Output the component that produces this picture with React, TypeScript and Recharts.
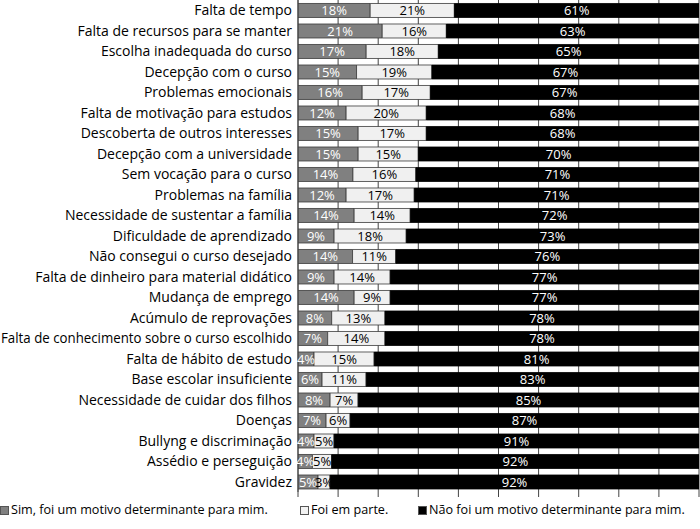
import React from 'react';
import { BarChart, Bar, XAxis, YAxis, CartesianGrid, LabelList, Legend } from 'recharts';

const categories = [
  'Falta de tempo',
  'Falta de recursos para se manter',
  'Escolha inadequada do curso',
  'Decepção com o curso',
  'Problemas emocionais',
  'Falta de motivação para estudos',
  'Descoberta de outros interesses',
  'Decepção com a universidade',
  'Sem vocação para o curso',
  'Problemas na família',
  'Necessidade de sustentar a família',
  'Dificuldade de aprendizado',
  'Não consegui o curso desejado',
  'Falta de dinheiro para material didático',
  'Mudança de emprego',
  'Acúmulo de reprovações',
  'Falta de conhecimento sobre o curso escolhido',
  'Falta de hábito de estudo',
  'Base escolar insuficiente',
  'Necessidade de cuidar dos filhos',
  'Doenças',
  'Bullyng e discriminação',
  'Assédio e perseguição',
  'Gravidez',
];

// Shares (%); labels show the rounded values.
const simValues = [18, 21, 17, 14.6, 16, 12, 15, 15, 13.7, 12, 14, 9, 13.6, 9, 14, 8.4, 7.4, 4, 6, 8, 7, 4, 3.6, 5];
const parteValues = [21, 16, 18, 18.8, 17, 20, 17, 15, 15.7, 17, 14, 18, 10.8, 14, 9, 13.3, 14.3, 15, 11, 7, 6, 5, 4.8, 3];
const naoValues = [61, 63, 65, 66.6, 67, 68, 68, 70, 70.6, 71, 72, 73, 75.6, 77, 77, 78.3, 78.3, 81, 83, 85, 87, 91, 91.6, 92];

const xTicks = [0, 10, 20, 30, 40, 50, 60, 70, 80, 90, 100];

const seriesNames = [
  'Sim, foi um motivo determinante para mim.',
  'Foi em parte.',
  'Não foi um motivo determinante para mim.',
];

const data = categories.map((c, i) => ({
  name: c,
  sim: simValues[i],
  parte: parteValues[i],
  nao: naoValues[i],
}));

const FONT = '"Open Sans", "Noto Sans", sans-serif';

const legendItems = [
  { label: seriesNames[0], color: '#808080', left: 0 },
  { label: seriesNames[1], color: '#f2f2f2', left: 300 },
  { label: seriesNames[2], color: '#000000', left: 418 },
];

const CustomLegend = () => (
  <div style={{ position: 'relative', width: 700, height: 31, fontFamily: FONT, fontSize: 12.6, color: '#000' }}>
    {legendItems.map((it) => (
      <div
        key={it.label}
        style={{ position: 'absolute', left: it.left, top: 2, display: 'flex', alignItems: 'center', whiteSpace: 'nowrap', lineHeight: '20px' }}
      >
        <span
          style={{
            display: 'inline-block',
            width: 7,
            height: 7,
            background: it.color,
            border: '1px solid #555',
            marginRight: 2,
          }}
        />
        <span>{it.label}</span>
      </div>
    ))}
  </div>
);

const CategoryTick = (props: any) => {
  const { x, y, payload } = props;
  const label = String(payload.value);
  const long = label.length > 40;
  return (
    <text
      x={x}
      y={y}
      dy="0.355em"
      textAnchor="end"
      fill="#000"
      fontSize={14}
      fontFamily={FONT}
      textLength={long ? 291 : undefined}
      lengthAdjust={long ? 'spacingAndGlyphs' : undefined}
    >
      {label}
    </text>
  );
};

const fmt = (v: any) => `${Math.round(Number(v))}%`;

export default function App() {
  return (
    <div style={{ position: 'absolute', left: 0, top: 0, width: 700, height: 529, background: '#fff' }}>
      <BarChart
        width={700}
        height={529}
        data={data}
        layout="vertical"
        margin={{ top: 0, right: 1, bottom: 0, left: 0 }}
        barCategoryGap="17%"
      >
        <CartesianGrid horizontal={false} vertical={true} stroke="#444" strokeWidth={1} />
        <XAxis
          type="number"
          domain={[0, 100]}
          ticks={xTicks}
          allowDataOverflow
          height={6}
          tickSize={5}
          axisLine={false}
          tickLine={{ stroke: '#444' }}
          tickFormatter={() => ''}
          interval={0}
        />
        <YAxis
          type="category"
          dataKey="name"
          width={298}
          interval={0}
          tickLine={false}
          axisLine={{ stroke: '#444' }}
          tickMargin={0}
          tick={<CategoryTick />}
        />
        <Legend verticalAlign="bottom" height={31} content={() => <CustomLegend />} />
        <Bar dataKey="sim" stackId="a" fill="#808080" stroke="#3a3a3a" strokeWidth={0.8} isAnimationActive={false} name={seriesNames[0]}>
          <LabelList dataKey="sim" position="center" formatter={fmt} fill="#fff" fontSize={13} fontFamily={FONT} />
        </Bar>
        <Bar dataKey="parte" stackId="a" fill="#f0f0f0" stroke="#3a3a3a" strokeWidth={0.8} isAnimationActive={false} name={seriesNames[1]}>
          <LabelList dataKey="parte" position="center" formatter={fmt} fill="#000" fontSize={13} fontFamily={FONT} />
        </Bar>
        <Bar dataKey="nao" stackId="a" fill="#000" stroke="#000" strokeWidth={0.8} isAnimationActive={false} name={seriesNames[2]}>
          <LabelList dataKey="nao" position="center" formatter={fmt} fill="#fff" fontSize={13} fontFamily={FONT} />
        </Bar>
      </BarChart>
    </div>
  );
}
